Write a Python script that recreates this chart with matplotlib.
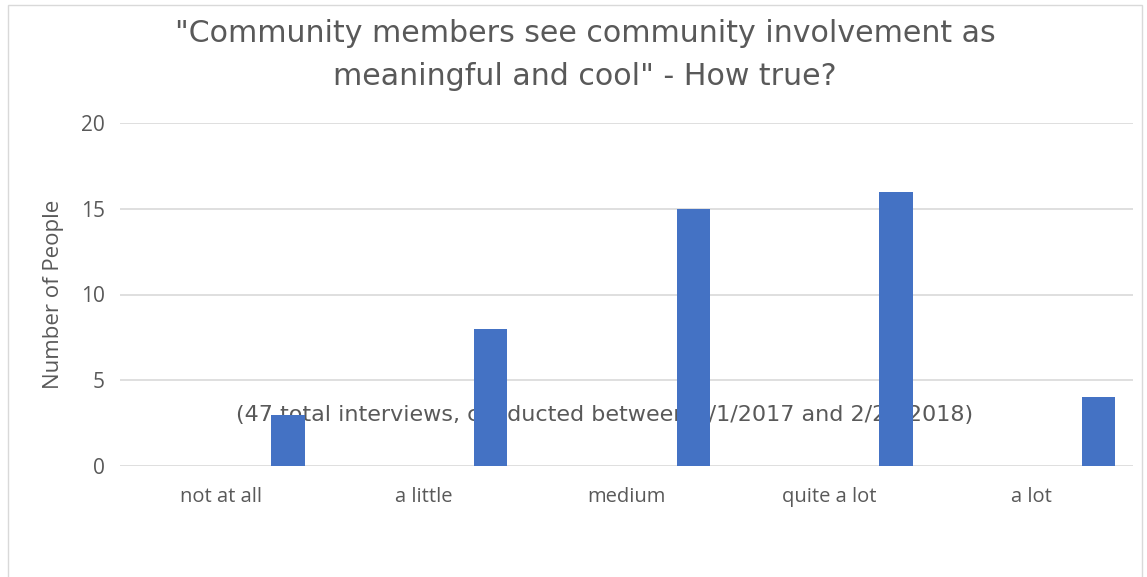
import matplotlib.pyplot as plt
import numpy as np
from matplotlib.patches import Rectangle

# survey answers and counts
categories = ["not at all", "a little", "medium", "quite a lot", "a lot"]
counts = [3, 8, 15, 16, 4]
y_ticks = [0, 5, 10, 15, 20]

title = '"Community members see community involvement as\nmeaningful and cool" - How true?'
note = "(47 total interviews, conducted between 2/1/2017 and 2/28/2018)"

grey = "#595959"
bar_color = "#4472C4"
plt.rcParams["font.family"] = ["Open Sans", "DejaVu Sans"]

fig = plt.figure(figsize=(11.47, 5.77), dpi=100)
fig.patches.append(Rectangle((8 / 1147, -0.01), 1134 / 1147, 1 - 5 / 577 + 0.01,
                             transform=fig.transFigure, fill=False,
                             edgecolor="#d9d9d9", linewidth=1))

ax = fig.add_axes([120 / 1147, 111 / 577, 1013 / 1147, 343 / 577])
x = np.arange(len(categories))

# text sits behind the bars
ax.text(1.89, 3.0, note, ha="center", va="center", fontsize=16, color=grey,
        family=["DejaVu Sans"], zorder=1)
ax.bar(x + 0.33, counts, width=0.165, color=bar_color, zorder=3)

ax.set_xlim(-0.5, len(categories) - 0.5)
ax.set_ylim(0, 20)
ax.set_yticks(y_ticks)
ax.set_xticks(x)
ax.set_xticklabels(categories)
ax.grid(axis="y", color="#d9d9d9", linewidth=1.2, zorder=0)
ax.set_axisbelow(True)
for s in ax.spines.values():
    s.set_visible(False)
ax.tick_params(length=0, colors=grey)
ax.tick_params(axis="y", pad=11, labelsize=15)
ax.tick_params(axis="x", pad=15, labelsize=14.5)
ax.set_ylabel("Number of People", fontsize=16, color=grey, labelpad=12)

fig.text(585 / 1147, 1 - 55 / 577, title, ha="center", va="center", fontsize=21.6,
         color=grey, linespacing=1.6, family=["DejaVu Sans"])

fig.savefig("out.png", dpi=100)
